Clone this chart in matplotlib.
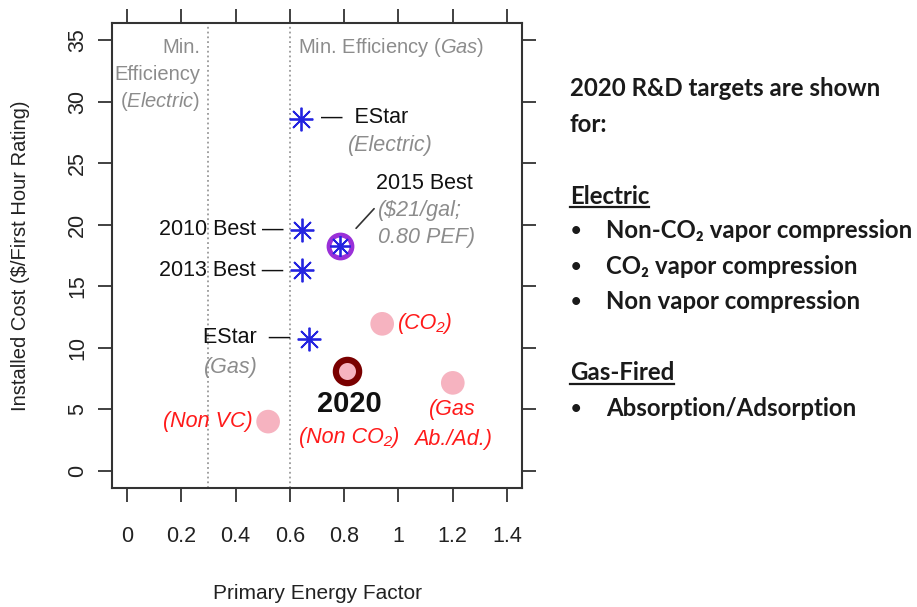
import numpy as np
import matplotlib
matplotlib.use("Agg")
import matplotlib.pyplot as plt
from matplotlib.lines import Line2D

plt.rcParams['font.family'] = ['Liberation Sans', 'DejaVu Sans']
plt.rcParams['mathtext.fontset'] = 'custom'
plt.rcParams['mathtext.rm'] = 'Liberation Sans'
plt.rcParams['mathtext.it'] = 'Liberation Sans:italic'
plt.rcParams['mathtext.bf'] = 'Liberation Sans:bold'

# benchmark products (blue asterisks)
bench_names = ['EStar (Electric)', '2010 Best', '2013 Best', 'EStar (Gas)']
bench_pef = [0.64, 0.645, 0.645, 0.67]
bench_cost = [28.6, 19.6, 16.3, 10.7]

# 2015 best
best15_pef = 0.785
best15_cost = 18.3

# 2020 R&D targets (pink dots)
target_names = ['Non CO2', 'CO2', 'Gas Ab./Ad.', 'Non VC']
target_pef = [0.81, 0.94, 1.20, 0.52]
target_cost = [8.1, 11.95, 7.15, 4.0]

min_eff_electric = 0.3
min_eff_gas = 0.6

xticks = [0, 0.2, 0.4, 0.6, 0.8, 1.0, 1.2, 1.4]
xticklabels = ['0', '0.2', '0.4', '0.6', '0.8', '1', '1.2', '1.4']
yticks = [0, 5, 10, 15, 20, 25, 30, 35]

blue = '#2424e0'
pink = '#f6b3c0'
red = '#ff1a1a'
grey = '#8c8c8c'

fig = plt.figure(figsize=(9.17, 6.07), dpi=100)
ax = fig.add_axes([0.1221, 0.196, 0.4472, 0.766])
ax.set_xlim(-0.055, 1.455)
ax.set_ylim(-1.4, 36.4)

for sp in ax.spines.values():
    sp.set_color('#333333')
    sp.set_linewidth(1.5)

ax.set_xticks(xticks)
ax.set_xticklabels(xticklabels)
ax.set_yticks(yticks)
ax.tick_params(axis='both', direction='out', length=10, width=1.3, color='#333333',
               labelsize=15.5, labelcolor='#222222', top=True, right=True)
ax.tick_params(axis='x', pad=17)
ax.tick_params(axis='y', pad=7)
for lab in ax.get_yticklabels():
    lab.set_rotation(90)
    lab.set_va('center')

ax.set_xlabel('Primary Energy Factor', fontsize=15, color='#222222', labelpad=27)
ax.set_ylabel('Installed Cost ($/First Hour Rating)', fontsize=14.5, color='#222222', labelpad=27)

ax.axvline(min_eff_electric, color='#999999', ls=':', lw=1.3)
ax.axvline(min_eff_gas, color='#999999', ls=':', lw=1.3)

# min efficiency labels
ax.text(0.27, 34.4, 'Min.', ha='right', va='center', fontsize=14.5, color=grey)
ax.text(0.27, 32.2, 'Efficiency', ha='right', va='center', fontsize=14.5, color=grey)
ax.text(0.27, 30.0, r'($\mathit{Electric}$)', ha='right', va='center', fontsize=14.5, color=grey)
ax.text(0.63, 34.4, r'Min. Efficiency ($\mathit{Gas}$)', ha='left', va='center',
        fontsize=14.5, color=grey)

# targets
ax.scatter(target_pef, target_cost, s=290, color=pink, edgecolor='none', zorder=3)
ax.scatter(target_pef[:1], target_cost[:1], s=280, facecolor=pink, edgecolor='#7a0000',
           linewidth=4.5, zorder=4)

# benchmarks
ax.plot(bench_pef, bench_cost, ls='none', marker=(8, 2, 0), ms=17, mew=1.3, color=blue, zorder=5)
ax.plot([best15_pef], [best15_cost], ls='none', marker='o', ms=16.5, mfc='white',
        mec='#9a30d8', mew=3.5, zorder=5)
ax.plot([best15_pef], [best15_cost], ls='none', marker=(8, 2, 0), ms=15, mew=1.3,
        color=blue, zorder=6)

fs = 15.5
it = dict(fontsize=fs, fontstyle='italic', textcoords='offset pixels', va='center')
nm = dict(fontsize=fs, color='#111111', textcoords='offset pixels', va='center')
# benchmark labels
ax.annotate('—  EStar', (bench_pef[0], bench_cost[0]), xytext=(20, 2), ha='left', **nm)
ax.annotate('(Electric)', (bench_pef[0], bench_cost[0]), xytext=(47, -26), ha='left',
            color=grey, **it)
ax.annotate('2010 Best —', (bench_pef[1], bench_cost[1]), xytext=(-19, 0), ha='right', **nm)
ax.annotate('2013 Best —', (bench_pef[2], bench_cost[2]), xytext=(-19, 0), ha='right', **nm)
ax.annotate('EStar  —', (bench_pef[3], bench_cost[3]), xytext=(-19, 2), ha='right', **nm)
ax.annotate('(Gas)', (bench_pef[3], bench_cost[3]), xytext=(-51, -28), ha='right',
            color=grey, **it)

# 2015 best labels
ax.annotate('2015 Best', (best15_pef, best15_cost), xytext=(36, 62), ha='left', **nm)
ax.annotate('($21/gal;', (best15_pef, best15_cost), xytext=(38, 35), ha='left', color=grey, **it)
ax.annotate('0.80 PEF)', (best15_pef, best15_cost), xytext=(38, 8), ha='left', color=grey, **it)
ax.annotate('', (best15_pef, best15_cost), xytext=(34, 37), textcoords='offset pixels',
            arrowprops=dict(arrowstyle='-', color='#333333', lw=1.2, shrinkA=0, shrinkB=17))

# target labels
ax.annotate('2020', (target_pef[0], target_cost[0]), xytext=(2, -33), textcoords='offset pixels',
            ha='center', va='center', fontsize=21, fontweight='bold', color='#111111')
ax.annotate('(Non CO₂)', (target_pef[0], target_cost[0]), xytext=(2, -66), ha='center',
            color=red, **it)
ax.annotate('(CO₂)', (target_pef[1], target_cost[1]), xytext=(16, 0), ha='left', color=red, **it)
ax.annotate('(Gas', (target_pef[2], target_cost[2]), xytext=(0, -27), ha='center',
            color=red, **it)
ax.annotate('Ab./Ad.)', (target_pef[2], target_cost[2]), xytext=(0, -57), ha='center',
            color=red, **it)
ax.annotate('(Non VC)', (target_pef[3], target_cost[3]), xytext=(-15, 0), ha='right',
            color=red, **it)

# right hand side notes
W, H = 917.0, 607.0
rfont = ['Lato', 'DejaVu Sans']
rs = 17.3
rc = '#1a1a1a'


def ftext(px, py, s, size=rs):
    return fig.text(px / W, 1 - py / H, s, ha='left', va='center', fontsize=size,
                    fontweight='bold', color=rc, family=rfont)


ftext(570, 89, '2020 R&D targets are shown')
ftext(570, 124, 'for:')
heads = [ftext(570, 196, 'Electric'), ftext(570, 373, 'Gas-Fired')]
bullets = [(231, 'Non-CO₂ vapor compression'), (267, 'CO₂ vapor compression'),
           (302, 'Non vapor compression'), (408, 'Absorption/Adsorption')]
for py, s in bullets:
    ftext(571, py, '•', size=13)
    ftext(606, py, s)

fig.canvas.draw()
r = fig.canvas.get_renderer()
for t in heads:
    bb = t.get_window_extent(r)
    yl = (bb.y0 + 1) / (H)
    fig.add_artist(Line2D([bb.x0 / W, bb.x1 / W], [yl, yl], color=rc, lw=1.6))

fig.savefig('out.png', dpi=100)
